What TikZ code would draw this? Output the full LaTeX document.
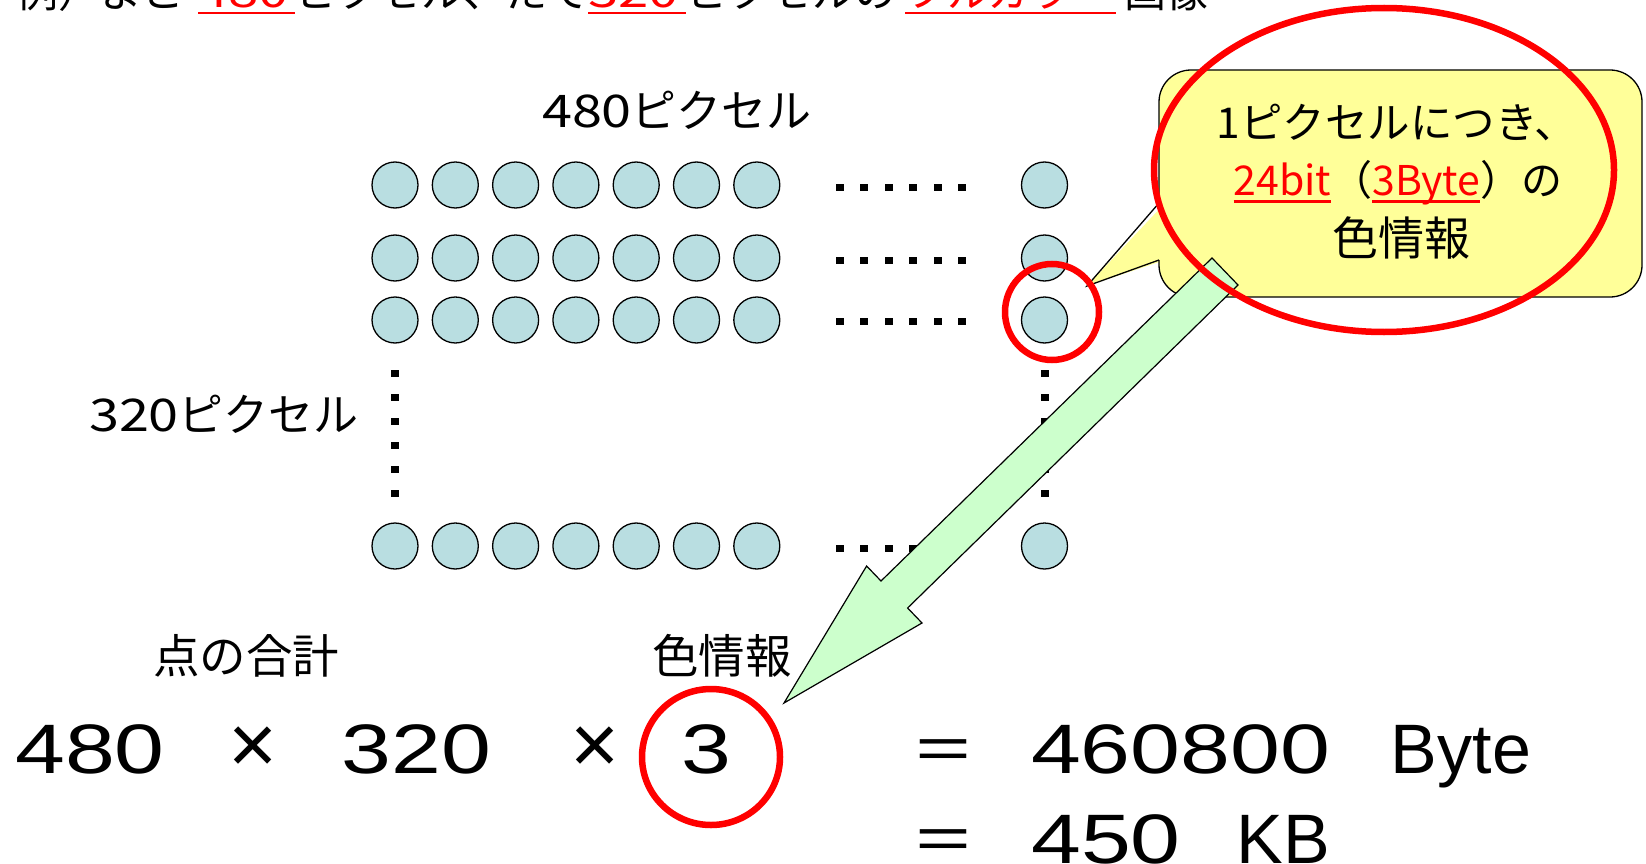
\documentclass[tikz,border=0pt]{standalone}
\usepackage{fontspec}
\setmainfont{Noto Sans CJK JP}
\newfontfamily\latf{Liberation Sans}
\definecolor{pixfill}{RGB}{185,222,225}
\definecolor{callfill}{RGB}{255,255,153}
\definecolor{arrfill}{RGB}{204,255,204}
\definecolor{mred}{RGB}{255,0,0}
\newcommand\myul[2][-7.5pt]{\setbox0\hbox{#2}\rlap{\rule[#1]{\wd0}{2.5pt}}\box0}
\newcommand\wnum[2][1.2]{\scalebox{#1}[1]{#2}}
\begin{document}
\begin{tikzpicture}[x=1pt,y=-1pt,
  pix/.style={circle, draw=black, line width=1.3pt, fill=pixfill, minimum size=46pt, inner sep=0pt},
  jp/.style={inner sep=0pt, anchor=base},
  jtop/.style={inner sep=0pt, anchor=base west, font=\fontsize{42}{46}\selectfont},
  lbl/.style={jp, font=\fontsize{45}{50}\selectfont},
  call/.style={jp, font=\fontsize{41}{46}\selectfont},
  sub/.style={jp, font=\fontsize{46.5}{50}\selectfont},
  fml/.style={jp, font=\latf\fontsize{70}{76}\selectfont},
  fmx/.style={jp, font=\latf\fontsize{84}{90}\selectfont},
  feq/.style={jp, font=\fontsize{64}{70}\selectfont},
  ring/.style={draw=mred, line width=6.5pt},
  dotsq/.style={fill=black}]
\useasboundingbox (0,0) rectangle (1646,864);
\fill[white] (0,0) rectangle (1646,864);
\begin{scope}
\clip (0,0) rectangle (1646,864);
% top (clipped) line
\node[jtop] (t1) at (16,8) {例）よこ};
\node[jtop, text=mred] (t2) at (198,8) {\wnum[1.3]{480}};
\node[jtop] (t3) at (295,8) {ピクセル、たて};
\node[jtop, text=mred] (t4) at (588,8) {\wnum[1.3]{320}};
\node[jtop] (t5) at (686,8) {ピクセルの};
\node[jtop, text=mred] (t6) at (905,8) {フルカラー};
\node[jtop] (t7) at (1124,8) {画像};
\fill[mred] (198,12) rectangle (295,14.5);
\fill[mred] (588,12) rectangle (686,14.5);
\fill[mred] (905,12) rectangle (1116,14.5);

% pixels
\foreach \r/\ry in {1/185,2/258,3/320,4/546}{
  \foreach \c in {0,...,6}{
    \node[pix] (p\r-\c) at ({395+60.3*\c},\ry) {};
  }
  \node[pix] (p\r-n) at (1044.5,\ry) {};
}
% horizontal dots
\foreach \ry in {187,260,321,548}{
  \foreach \k in {0,...,5}{
    \fill[dotsq] ({840+24.4*\k-4},{\ry-3.5}) rectangle +(8,7);
  }
}
% vertical dots
\foreach \vx in {394.5,1044.5}{
  \foreach \k in {0,...,5}{
    \fill[dotsq] ({\vx-4},{373+24*\k-3.5}) rectangle +(8,7);
  }
}
\node[lbl] (lw) at (677,128) {\wnum{480}ピクセル};
\node[lbl] (lh) at (224,431) {\wnum{320}ピクセル};

% callout
\fill[callfill] (1159,203) [rounded corners=32pt] -- (1159,70) -- (1642,70) -- (1642,297) -- (1159,297) -- cycle;
\fill[callfill] (1165,203) -- (1087,286) -- (1165,260) -- cycle;
\draw[line width=1.3pt] (1159,203) [rounded corners=32pt] -- (1159,70) -- (1642,70) -- (1642,297) -- (1159,297) -- (1159,260);
\draw[line width=1.3pt, line join=miter] (1159,260) -- (1087,286) -- (1159,203);
\node[call, font=\fontsize{42.5}{46}\selectfont] (c1) at (1397,139) {1ピクセルにつき、};
\node[call] (c2) at (1398,195) {{\color{mred}\myul{24bit}}（{\color{mred}\myul{3Byte}}）の};
\node[call, font=\fontsize{46}{50}\selectfont] (c3) at (1401,255) {色情報};

% bottom labels
\node[sub] (s1) at (246,673) {点の合計};
\node[sub] (s2) at (722,673) {色情報};

% formula
\node[fml] (f1) at (90,773) {\wnum[1.28]{480}};
\node[fmx] (x1) at (253,773) {×};
\node[fml] (f2) at (416.5,773) {\wnum[1.28]{320}};
\node[fmx] (x2) at (595,773) {×};
\node[fml] (f3) at (706.5,773) {\wnum[1.28]{3}};
\node[feq] (e1) at (943,773) {＝};
\node[fml] (f4) at (1180.5,773) {\wnum[1.28]{460800}};
\node[fml] (u1) at (1461,773) {Byte};
\node[feq] (e2) at (943,863) {＝};
\node[fml] (f5) at (1106,863) {\wnum[1.28]{450}};
\node[fml] (u2) at (1283,863) {KB};

% green block arrow
\coordinate (atip) at (784,703);
\coordinate (abl) at (866.6,566);
\coordinate (anl) at (881,581);
\coordinate (asl) at (1212,258);
\coordinate (asr) at (1238,285);
\coordinate (anr) at (907.6,608);
\coordinate (abr) at (922,623);
\filldraw[fill=arrfill, draw=black, line width=1.2pt, line join=miter]
  (atip) -- (abl) -- (anl) -- (asl) -- (asr) -- (anr) -- (abr) -- cycle;

% red rings
\draw[ring] (1384,170) ellipse [x radius=230pt, y radius=162pt];
\draw[ring] (1052,312) ellipse [x radius=47pt, y radius=48pt];
\draw[ring] (711,757) ellipse [x radius=69pt, y radius=68pt];
\end{scope}
\end{tikzpicture}
\end{document}
